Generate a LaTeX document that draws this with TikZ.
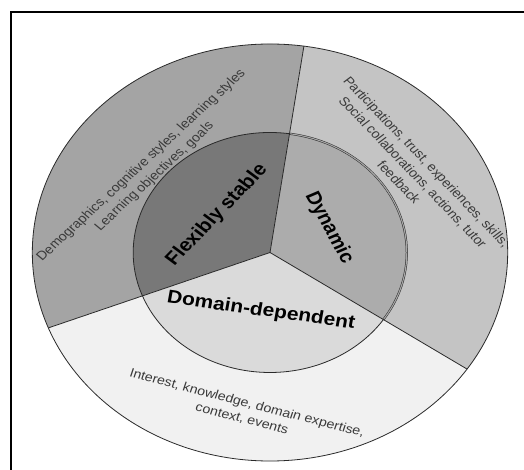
\documentclass[tikz,border=0pt]{standalone}
\usepackage{fontspec}
\setmainfont{Liberation Sans}
\definecolor{outerUL}{HTML}{A4A4A4}
\definecolor{outerR}{HTML}{C4C4C4}
\definecolor{outerB}{HTML}{F1F1F1}
\definecolor{innerFS}{HTML}{787878}
\definecolor{innerDy}{HTML}{ACACAC}
\definecolor{innerDD}{HTML}{DADADA}
\definecolor{edge}{HTML}{2A2A2A}
\definecolor{smalltext}{HTML}{3A3A3A}
\tikzset{
  edgeline/.style={draw=edge, line width=0.8pt},
  biglabel/.style={transform shape, inner sep=0pt, font=\fontsize{18.4}{22}\selectfont\bfseries, text=black},
  smalllabel/.style={transform shape, inner sep=0pt, align=center, font=\fontsize{12.5}{16}\selectfont, text=smalltext},
}
\begin{document}
\begin{tikzpicture}[x=1pt,y=1pt]
\useasboundingbox (0,0) rectangle (524,-470);
\fill[white] (0,0) rectangle (524,-470);
\draw[line width=1.5pt, black] (11,-470) -- (11,-12) -- (524,-12);
\begin{scope}[shift={(270,-252.5)}, xscale=1.14]
  \def\aA{81.8}
  \def\aB{201.2}
  \def\aC{-34}
  \def\ro{208.5}
  \def\ri{120}
  % outer sectors
  \fill[outerUL] (0,0) -- (\aA:\ro) arc[start angle=\aA, end angle=\aB, radius=\ro] -- cycle;
  \fill[outerB] (0,0) -- (\aB:\ro) arc[start angle=\aB, end angle=326, radius=\ro] -- cycle;
  \fill[outerR] (0,0) -- (\aC:\ro) arc[start angle=\aC, end angle=\aA, radius=\ro] -- cycle;
  % inner sectors
  \fill[innerFS] (0,0) -- (\aA:\ri) arc[start angle=\aA, end angle=\aB, radius=\ri] -- cycle;
  \fill[innerDD] (0,0) -- (\aB:\ri) arc[start angle=\aB, end angle=326, radius=\ri] -- cycle;
  \fill[innerDy] (0,0) -- (\aC:\ri) arc[start angle=\aC, end angle=\aA, radius=\ri] -- cycle;
  % outlines
  \coordinate (c) at (0,0);
  \coordinate (oA) at (\aA:\ro);
  \coordinate (oB) at (\aB:\ro);
  \coordinate (oC) at (\aC:\ro);
  \draw[edgeline] (0,0) circle[radius=\ro];
  \draw[edgeline] (\aA:\ri) arc[start angle=\aA, end angle=326, radius=\ri];
  \draw[draw=edge, line width=0.5pt, double=gray!70, double distance=1.1pt] (\aC:\ri) arc[start angle=\aC, end angle=\aA, radius=\ri];
  \draw[edgeline] (c) -- (oA);
  \draw[edgeline] (c) -- (oB);
  \draw[edgeline] (c) -- (oC);
  % labels
  \node[biglabel, rotate=49.7] (fs) at (-46.5,37.5) {Flexibly stable};
  \node[biglabel, rotate=-64.1] (dy) at (51.8,24.5) {Dynamic};
  \node[biglabel, rotate=-9] (dd) at (-7.9,-58.5) {Domain-dependent};
  \node[smalllabel, rotate=46.4] (ul) at (-107,81.5) {Demographics, cognitive styles, learning styles\\Learning objectives, goals};
  \node[smalllabel, rotate=-49.7] (ur) at (125.4,80.5) {Participations, trust, experiences, skills,\\Social collaborations, actions, tutor\\feedback};
  \node[smalllabel, rotate=-16.3] (bt) at (-22.4,-158.5) {Interest, knowledge, domain expertise,\\context, events};
\end{scope}
\end{tikzpicture}
\end{document}
